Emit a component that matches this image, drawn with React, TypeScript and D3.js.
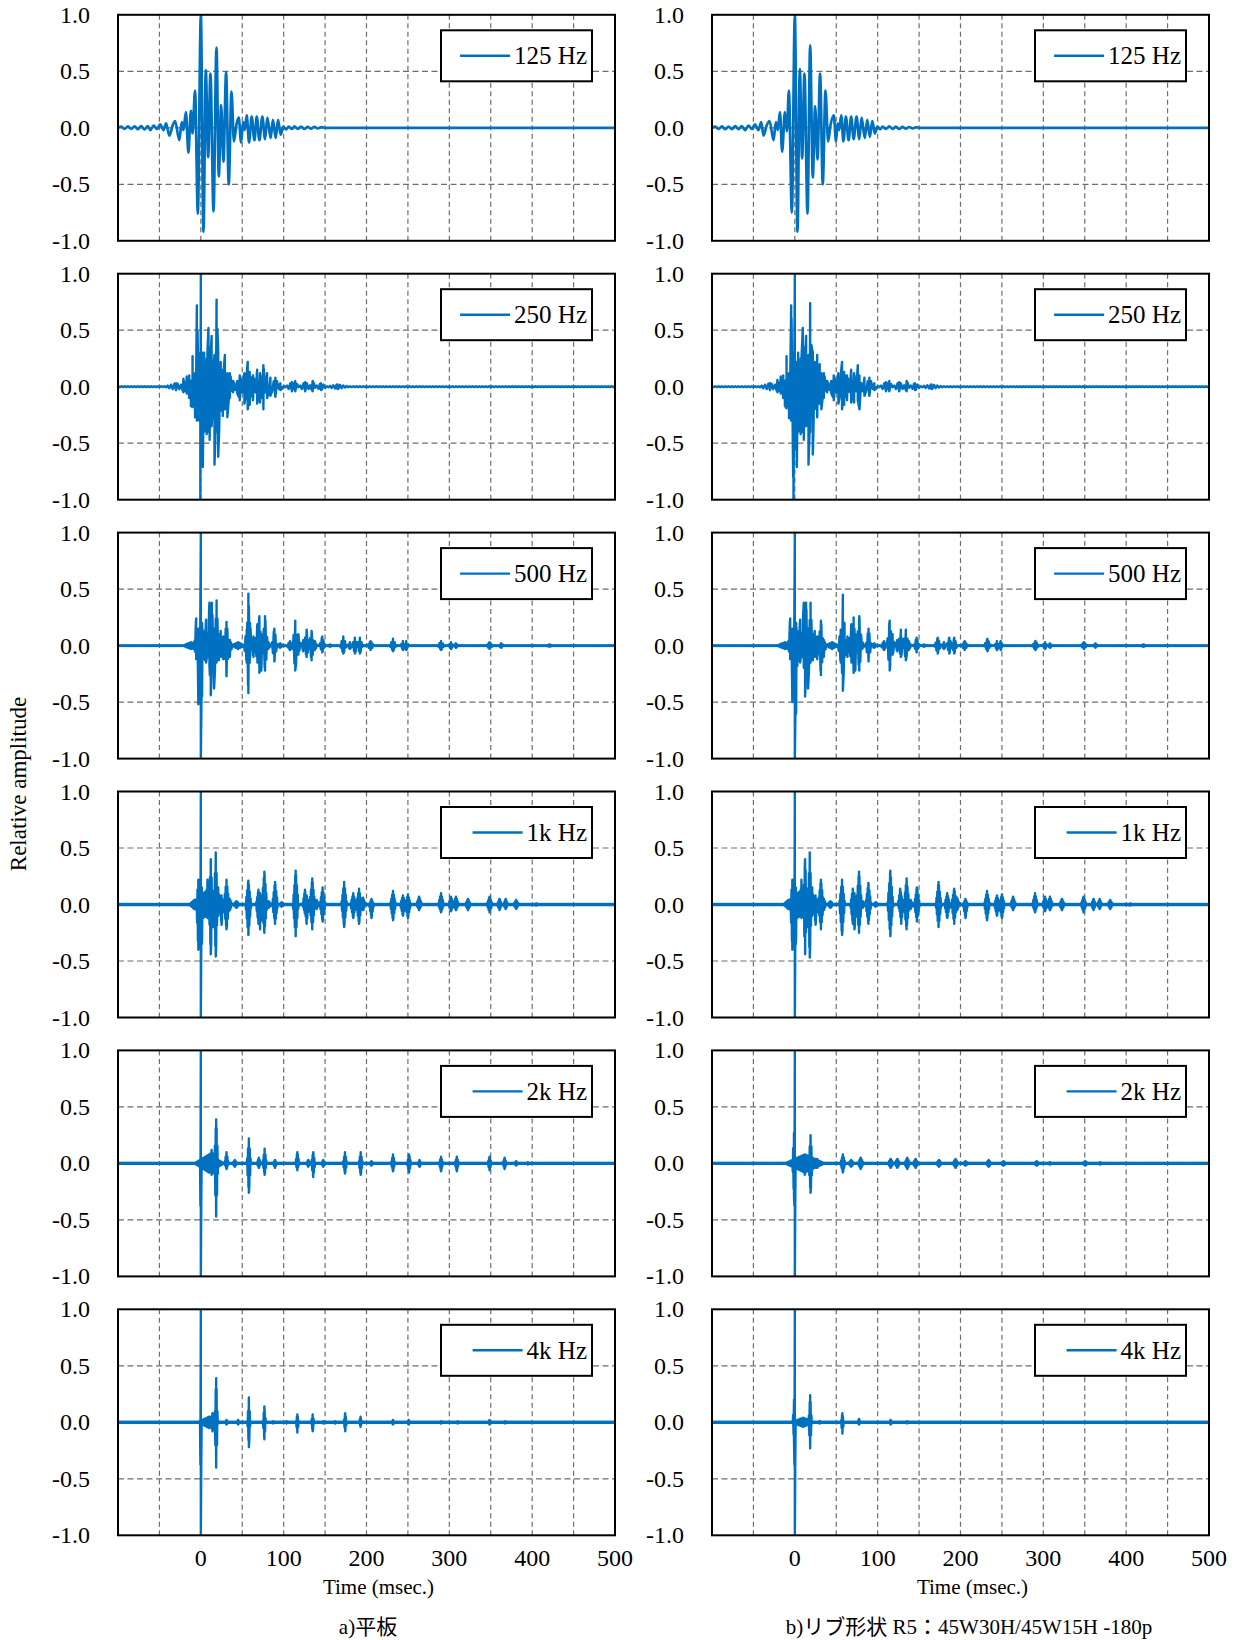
import React, { useMemo } from "react";
import * as d3 from "d3";

type Peak = [number, number];
type Burst = [number, number, number, number]; // [centre ms, +peak, -peak, half-width ms]

const xTicks = [0, 100, 200, 300, 400, 500];
const xGrid = [-50, 0, 50, 100, 150, 200, 250, 300, 350, 400, 450];
const yTicks = [1.0, 0.5, 0.0, -0.5, -1.0];
const yGrid = [0.5, 0, -0.5];
const bandLabels = ["125 Hz", "250 Hz", "500 Hz", "1k Hz", "2k Hz", "4k Hz"];
const columnCaptions = ["a)平板", "b)リブ形状 R5：45W30H/45W15H -180p"];
const xTitle = "Time (msec.)";
const yTitle = "Relative amplitude";

// 125 Hz: individual oscillation extremes [ms, amplitude]
const peaks125A: Peak[] = [
  [-100, 0], [-96, 0.01], [-92, -0.01], [-88, 0.012], [-84, -0.01], [-80, 0.012], [-76, -0.012],
  [-72, 0.015], [-68, -0.015], [-64, 0.015], [-61, -0.02], [-57, 0.02], [-53, -0.01], [-49, 0.03],
  [-45, -0.02], [-42, 0.04], [-38, -0.07], [-34, 0.02], [-31, 0.06], [-26, -0.11], [-23, 0.05],
  [-21, -0.02], [-18, 0.14], [-15, -0.22], [-12, 0.15], [-10, -0.05], [-7, 0.33], [-3.6, -0.76],
  [0, 1.0], [3.2, -0.92], [6, 0.51], [8.8, -0.26], [11.6, 0.48], [15.3, -0.74], [18.9, 0.71],
  [21.7, -0.43], [24.5, 0.2], [27.3, -0.3], [30.5, 0.49], [33.7, -0.5], [37, 0.32], [40, -0.12],
  [43, 0.03], [45.8, 0.09], [48.6, -0.13], [51, 0.05], [53, -0.02], [55.4, 0.11], [58.2, -0.13],
  [61.4, 0.1], [64.7, -0.11], [67.5, 0.1], [70.7, -0.11], [74.3, 0.1], [77.5, -0.1], [80.3, 0.09],
  [84.3, -0.09], [87, 0.07], [90.4, -0.09], [93.2, 0.07], [96.4, -0.06], [99.5, 0.01], [103, -0.015],
  [106, 0.01], [110, -0.01], [113, 0.012], [117, -0.01], [121, 0.01], [125, -0.01], [129, 0.008],
  [133, -0.008], [137, 0.008], [141, -0.006], [146, 0.006], [150, 0], [500, 0],
];
const peaks125B: Peak[] = [
  [-100, 0], [-96, 0.01], [-92, -0.01], [-88, 0.012], [-84, -0.012], [-80, 0.01], [-76, -0.012],
  [-72, 0.015], [-68, -0.012], [-64, 0.015], [-60, -0.02], [-56, 0.02], [-52, -0.01], [-48, 0.03],
  [-44, -0.02], [-40.6, 0.05], [-37.8, -0.07], [-34, 0.02], [-30.5, 0.06], [-25.7, -0.11], [-22.9, 0.05],
  [-20.5, -0.02], [-18, 0.14], [-15.3, -0.21], [-12, 0.14], [-9.6, -0.03], [-7.2, 0.33], [-3.6, -0.75],
  [0, 1.0], [3.2, -0.92], [6, 0.52], [8.8, -0.27], [11.6, 0.48], [15.3, -0.76], [18.5, 0.73],
  [21.7, -0.44], [24.5, 0.19], [27.3, -0.28], [30.5, 0.48], [33.7, -0.5], [37, 0.33], [40.2, -0.12],
  [43, 0.02], [47, 0.11], [49.8, -0.12], [51.5, 0.04], [53.5, -0.02], [56, 0.11], [58.6, -0.12],
  [61.6, 0.1], [64.9, -0.11], [68, 0.1], [71, -0.1], [74.5, 0.1], [77.8, -0.1], [80.6, 0.09],
  [84.5, -0.09], [87.4, 0.07], [90.6, -0.08], [93.5, 0.06], [96.6, -0.05], [99.6, 0.01], [103, -0.012],
  [106, 0.01], [110, -0.01], [114, 0.012], [118, -0.01], [122, 0.01], [126, -0.01], [130, 0.008],
  [134, -0.008], [138, 0.007], [142, -0.006], [146, 0.005], [150, 0], [500, 0],
];

// Other bands: reflections read as bursts [centre ms, +peak, -peak, half-width ms]
const bursts250A: Burst[] = [
  [-30, 0.03, 0.03, 15], [-21, 0.07, 0.05, 3], [-17, 0.09, 0.06, 3], [-14, 0.1, 0.1, 3],
  [-12, 0.05, 0.17, 2.5], [-10, 0.27, 0.18, 2.5], [-7, 0.12, 0.27, 2.5], [-4.8, 0.72, 0.3, 2.5],
  [-0.6, 0.3, 1.0, 2], [0, 1.0, 0.5, 2], [2.4, 0.3, 0.71, 2], [4, 0.3, 0.4, 3], [7, 0.25, 0.42, 3],
  [9.2, 0.52, 0.4, 3], [10.6, 0.35, 0.47, 3], [13, 0.45, 0.35, 3], [16.5, 0.28, 0.69, 3],
  [19, 0.77, 0.4, 3], [21, 0.3, 0.62, 3], [24, 0.22, 0.2, 3], [26.5, 0.15, 0.26, 3], [29, 0.28, 0.2, 3],
  [32, 0.12, 0.27, 3], [35, 0.12, 0.1, 4], [39, 0.05, 0.05, 4], [44, 0.05, 0.06, 4], [47, 0.1, 0.12, 4],
  [52.6, 0.12, 0.15, 4], [56.6, 0.22, 0.2, 3], [59, 0.13, 0.16, 3], [63, 0.1, 0.12, 4], [68, 0.15, 0.15, 3],
  [71.5, 0.12, 0.14, 3], [75.5, 0.19, 0.2, 3], [80, 0.12, 0.1, 4], [84, 0.08, 0.08, 4], [90, 0.08, 0.09, 5],
  [96, 0.03, 0.03, 5], [110, 0.04, 0.04, 8], [114, 0.05, 0.04, 4], [126, 0.04, 0.04, 8], [135, 0.05, 0.04, 4],
  [145, 0.03, 0.03, 8], [165, 0.02, 0.02, 15],
];
const bursts250B: Burst[] = [
  [-30, 0.03, 0.03, 15], [-21, 0.06, 0.05, 3], [-17, 0.09, 0.06, 3], [-14, 0.1, 0.1, 3],
  [-12, 0.05, 0.17, 2.5], [-10, 0.27, 0.19, 2.5], [-7, 0.12, 0.28, 2.5], [-4.4, 0.72, 0.3, 2.5],
  [-1.6, 0.3, 1.0, 2], [0, 1.0, 0.5, 2], [2.4, 0.22, 0.71, 2], [4, 0.3, 0.4, 3], [7, 0.25, 0.42, 3],
  [9.6, 0.52, 0.4, 3], [10.8, 0.35, 0.47, 3], [13.6, 0.45, 0.35, 3], [16.5, 0.28, 0.69, 3],
  [18.5, 0.74, 0.4, 3], [21.7, 0.3, 0.6, 3], [24, 0.22, 0.2, 3], [27, 0.28, 0.27, 3], [30, 0.2, 0.15, 3],
  [32, 0.12, 0.2, 3], [35, 0.12, 0.1, 4], [39, 0.05, 0.05, 4], [44, 0.05, 0.06, 4], [47, 0.1, 0.12, 4],
  [52.6, 0.12, 0.15, 4], [57, 0.22, 0.2, 3], [59.5, 0.13, 0.16, 3], [63, 0.1, 0.12, 4], [68, 0.15, 0.14, 3],
  [71.5, 0.12, 0.14, 3], [76, 0.19, 0.12, 3], [78, 0.1, 0.2, 3], [84, 0.08, 0.08, 4], [90, 0.08, 0.08, 5],
  [96, 0.03, 0.03, 5], [110, 0.04, 0.04, 8], [114, 0.05, 0.04, 4], [126, 0.04, 0.04, 8], [135, 0.05, 0.04, 4],
  [145, 0.03, 0.03, 8], [165, 0.02, 0.02, 15],
];
const bursts500A: Burst[] = [
  [-12, 0.03, 0.03, 10], [5, 0.13, 0.13, 18], [25, 0.07, 0.07, 15], [-5.6, 0.24, 0.12, 2.5],
  [-3, 0.15, 0.52, 2], [0, 1.0, 1.0, 1.2], [1.5, 0.2, 0.45, 2], [6.4, 0.23, 0.15, 2.5], [10.4, 0.38, 0.18, 2.5],
  [12, 0.15, 0.44, 2.5], [13.3, 0.38, 0.15, 2.5], [16, 0.15, 0.38, 2.5], [19, 0.4, 0.15, 2.5], [21.7, 0.1, 0.13, 2.5],
  [24, 0.13, 0.1, 2.5], [27, 0.08, 0.12, 2.5], [31, 0.21, 0.27, 3.5], [35, 0.05, 0.1, 3], [45, 0.03, 0.03, 8],
  [55.4, 0.14, 0.15, 3.5], [57.4, 0.46, 0.42, 2.5], [59.4, 0.2, 0.1, 2.5], [63.5, 0.08, 0.1, 3.5],
  [68.3, 0.19, 0.15, 3.5], [70.7, 0.26, 0.24, 2.5], [73, 0.1, 0.22, 2.5], [77.5, 0.26, 0.22, 3.5],
  [81.5, 0.03, 0.03, 3], [88.8, 0.15, 0.14, 3.5], [95.6, 0.02, 0.02, 4], [107.6, 0.04, 0.04, 4],
  [114, 0.22, 0.22, 3.5], [117.7, 0.1, 0.08, 3], [123.7, 0.05, 0.05, 3], [127.7, 0.14, 0.1, 3.5],
  [133.7, 0.13, 0.13, 3.5], [137.7, 0.04, 0.04, 3], [146.6, 0.08, 0.06, 3.5], [156, 0.01, 0.01, 4],
  [172, 0.08, 0.07, 4], [180, 0.03, 0.03, 3], [186, 0.07, 0.07, 3.5], [192, 0.07, 0.07, 3.5],
  [205, 0.04, 0.04, 4], [232, 0.06, 0.05, 4], [244, 0.04, 0.04, 3], [248, 0.04, 0.04, 3],
  [290, 0.04, 0.04, 4], [302, 0.03, 0.03, 3], [308, 0.02, 0.02, 3], [348.6, 0.03, 0.03, 4],
  [362.6, 0.02, 0.02, 3], [421, 0.01, 0.01, 5],
];
const bursts500B: Burst[] = [
  [-12, 0.03, 0.03, 10], [5, 0.13, 0.13, 18], [25, 0.07, 0.07, 15], [-5.6, 0.24, 0.12, 2.5],
  [-3, 0.15, 0.5, 2], [0, 1.0, 1.0, 1.2], [1.6, 0.2, 0.6, 2], [6.4, 0.23, 0.15, 2.5], [10.8, 0.38, 0.18, 2.5],
  [12.4, 0.15, 0.45, 2.5], [13.6, 0.38, 0.15, 2.5], [16, 0.15, 0.38, 2.5], [19, 0.38, 0.15, 2.5], [21.7, 0.1, 0.13, 2.5],
  [24, 0.13, 0.1, 2.5], [27, 0.08, 0.12, 2.5], [31.5, 0.22, 0.26, 3.5], [35, 0.05, 0.1, 3], [45, 0.03, 0.03, 8],
  [55.4, 0.14, 0.15, 3.5], [58, 0.45, 0.4, 2.5], [60, 0.2, 0.1, 2.5], [63.5, 0.08, 0.1, 3.5],
  [68.3, 0.19, 0.15, 3.5], [71, 0.25, 0.24, 2.5], [73, 0.1, 0.22, 2.5], [77.8, 0.26, 0.22, 3.5],
  [81.5, 0.03, 0.03, 3], [89, 0.15, 0.14, 3.5], [95.6, 0.02, 0.02, 4], [107.6, 0.04, 0.04, 4],
  [114.5, 0.22, 0.22, 3.5], [118, 0.1, 0.08, 3], [123.7, 0.05, 0.05, 3], [128, 0.14, 0.1, 3.5],
  [134, 0.14, 0.13, 3.5], [137.7, 0.04, 0.04, 3], [147, 0.07, 0.06, 3.5], [156, 0.01, 0.01, 4],
  [172.5, 0.07, 0.07, 4], [180, 0.03, 0.03, 3], [186.5, 0.07, 0.07, 3.5], [192.5, 0.07, 0.07, 3.5],
  [205, 0.04, 0.04, 4], [232.5, 0.06, 0.05, 4], [244, 0.04, 0.04, 3], [248.5, 0.04, 0.04, 3],
  [290.5, 0.04, 0.04, 4], [302, 0.03, 0.03, 3], [308, 0.02, 0.02, 3], [349, 0.03, 0.03, 4],
  [363, 0.02, 0.02, 3], [421, 0.01, 0.01, 5],
];
const bursts1kA: Burst[] = [
  [-8, 0.04, 0.04, 6], [5, 0.11, 0.11, 18], [-3, 0.22, 0.4, 2.5], [0, 1.0, 1.0, 0.8], [1.2, 0.15, 0.35, 2],
  [8, 0.22, 0.12, 2.5], [12, 0.4, 0.44, 2.5], [15, 0.12, 0.2, 2.5], [18, 0.46, 0.46, 2.5], [21, 0.15, 0.1, 2.5],
  [25, 0.08, 0.18, 2.5], [31, 0.22, 0.22, 3.5], [35, 0.05, 0.05, 3], [43, 0.03, 0.03, 4],
  [57.4, 0.21, 0.27, 3.5], [69.5, 0.13, 0.17, 3], [71.5, 0.1, 0.22, 3], [76.7, 0.29, 0.25, 3.5],
  [82, 0.03, 0.03, 3], [89.6, 0.2, 0.17, 3.5], [97.6, 0.02, 0.02, 3], [114.5, 0.3, 0.28, 3.5],
  [125.7, 0.13, 0.08, 3], [127.7, 0.08, 0.17, 3], [134.5, 0.23, 0.22, 3.5], [139.8, 0.04, 0.04, 3],
  [147, 0.15, 0.15, 3.5], [173, 0.2, 0.2, 3.5], [184, 0.1, 0.12, 3.5], [191, 0.14, 0.17, 3.5], [196, 0.06, 0.05, 3],
  [206, 0.05, 0.12, 3], [232, 0.12, 0.14, 3.5], [244, 0.08, 0.1, 3.5], [250, 0.09, 0.12, 3.5],
  [263.5, 0.07, 0.05, 3.5], [290, 0.1, 0.07, 3.5], [302, 0.07, 0.06, 3.5], [308, 0.07, 0.05, 3.5],
  [322.5, 0.05, 0.05, 3.5], [348.6, 0.07, 0.07, 3.5], [360.6, 0.05, 0.05, 3], [368, 0.05, 0.04, 3],
  [380.7, 0.04, 0.04, 3.5], [405, 0.01, 0.01, 4],
];
const bursts1kB: Burst[] = [
  [-8, 0.04, 0.04, 6], [5, 0.11, 0.11, 18], [-3, 0.22, 0.4, 2.5], [0, 1.0, 1.0, 0.8], [1.2, 0.15, 0.35, 2],
  [8, 0.22, 0.12, 2.5], [12.4, 0.4, 0.44, 2.5], [15, 0.12, 0.2, 2.5], [18, 0.46, 0.47, 2.5], [21, 0.15, 0.1, 2.5],
  [25, 0.08, 0.18, 2.5], [31.5, 0.22, 0.22, 3.5], [35, 0.05, 0.05, 3], [43, 0.03, 0.03, 4],
  [57, 0.22, 0.27, 3.5], [70, 0.14, 0.17, 3], [72, 0.1, 0.22, 3], [77.5, 0.29, 0.25, 3.5],
  [82, 0.03, 0.03, 3], [88.8, 0.19, 0.17, 3.5], [97.6, 0.02, 0.02, 3], [115.3, 0.3, 0.28, 3.5],
  [127.3, 0.14, 0.08, 3], [128.5, 0.08, 0.17, 3], [134.9, 0.23, 0.22, 3.5], [139.8, 0.04, 0.04, 3],
  [147.4, 0.15, 0.15, 3.5], [173.5, 0.2, 0.2, 3.5], [184, 0.1, 0.12, 3.5], [192.4, 0.14, 0.17, 3.5],
  [196, 0.06, 0.05, 3], [206, 0.05, 0.12, 3], [232, 0.12, 0.14, 3.5], [244, 0.08, 0.1, 3.5],
  [250, 0.09, 0.12, 3.5], [263.5, 0.07, 0.05, 3.5], [290, 0.1, 0.07, 3.5], [302, 0.07, 0.06, 3.5],
  [308, 0.07, 0.05, 3.5], [322.5, 0.05, 0.05, 3.5], [348.6, 0.07, 0.07, 3.5], [360.6, 0.05, 0.05, 3],
  [368, 0.05, 0.04, 3], [380.7, 0.04, 0.04, 3.5], [405, 0.01, 0.01, 4],
];
const bursts2kA: Burst[] = [
  [0, 1.0, 1.0, 0.8], [10, 0.08, 0.08, 18], [13, 0.12, 0.1, 4], [18.5, 0.39, 0.47, 2.5], [31, 0.1, 0.05, 2.5],
  [41, 0.03, 0.03, 3], [58, 0.22, 0.26, 2.5], [70, 0.05, 0.04, 2.5], [77, 0.13, 0.1, 2.5], [89.5, 0.03, 0.04, 2.5],
  [116.5, 0.1, 0.06, 2.5], [129.7, 0.03, 0.03, 2.5], [135.7, 0.1, 0.12, 2.5], [147.8, 0.03, 0.03, 2.5],
  [174, 0.1, 0.09, 2.5], [193, 0.1, 0.1, 2.5], [206, 0.02, 0.02, 2.5], [232, 0.08, 0.07, 2.5],
  [251.4, 0.08, 0.08, 2.5], [264, 0.03, 0.03, 2.5], [290, 0.06, 0.07, 2.5], [309, 0.06, 0.07, 2.5],
  [348.6, 0.06, 0.06, 2.5], [366.7, 0.05, 0.05, 2.5], [380.7, 0.02, 0.02, 2.5], [394.8, 0.01, 0.01, 2.5],
];
const bursts2kB: Burst[] = [
  [0, 1.0, 1.0, 0.8], [-1, 0.27, 0.3, 2], [12, 0.08, 0.08, 24], [12, 0.08, 0.1, 3.5], [15, 0.07, 0.05, 3.5],
  [19, 0.25, 0.26, 2.5], [27, 0.04, 0.04, 3.5], [58, 0.08, 0.08, 3], [68, 0.03, 0.03, 3.5], [79.5, 0.05, 0.05, 3.5],
  [115.7, 0.04, 0.04, 3.5], [123.7, 0.04, 0.04, 3.5], [135.7, 0.05, 0.05, 3.5], [145.8, 0.04, 0.04, 3.5],
  [174, 0.03, 0.03, 3.5], [194, 0.04, 0.04, 3.5], [206, 0.02, 0.02, 3.5], [234, 0.03, 0.03, 3.5],
  [252, 0.02, 0.02, 3.5], [292, 0.02, 0.02, 3.5], [308, 0.01, 0.01, 3.5], [350.6, 0.02, 0.02, 3.5],
  [368.7, 0.01, 0.01, 3.5],
];
const bursts4kA: Burst[] = [
  [0, 1.0, 1.0, 0.8], [10, 0.05, 0.05, 14], [14, 0.08, 0.08, 3], [18.5, 0.39, 0.4, 2], [31, 0.02, 0.02, 2],
  [45, 0.02, 0.02, 2], [58, 0.22, 0.22, 1.8], [76.7, 0.14, 0.15, 1.8], [87.5, 0.01, 0.01, 2],
  [103.6, 0.01, 0.01, 2], [116.5, 0.07, 0.09, 1.8], [135, 0.07, 0.08, 1.8], [148, 0.01, 0.01, 2],
  [162, 0.01, 0.01, 2], [174.3, 0.08, 0.08, 1.8], [192.8, 0.05, 0.04, 1.8], [232, 0.02, 0.02, 2],
  [251, 0.02, 0.02, 2], [290, 0.01, 0.01, 2], [310, 0.01, 0.01, 2], [348.6, 0.02, 0.02, 2],
  [367.5, 0.01, 0.01, 2],
];
const bursts4kB: Burst[] = [
  [0, 1.0, 1.0, 0.8], [-1, 0.2, 0.16, 1.5], [10, 0.04, 0.04, 14], [18.5, 0.24, 0.23, 2],
  [30, 0.01, 0.01, 3], [57.4, 0.08, 0.1, 1.8], [77.5, 0.03, 0.02, 2], [115.7, 0.02, 0.02, 2],
  [135.7, 0.01, 0.01, 2],
];

const leftSeries = [peaks125A, bursts250A, bursts500A, bursts1kA, bursts2kA, bursts4kA];
const rightSeries = [peaks125B, bursts250B, bursts500B, bursts1kB, bursts2kB, bursts4kB];

// ---- layout / style ----
const W = 1236;
const H = 1640;
const colX = [118, 712];
const plotW = 497;
const plotH = 226;
const rowTop = (i: number) => 14.8 + i * 258.9;
const stepByRow = [0, 2, 1, 0.5, 0.5, 0.5];
const BLUE = "#0070C0";
const FONT = "'Liberation Serif', 'Times New Roman', 'Noto Sans CJK JP', serif";

const charW: Record<string, number> = { " ": 0.25, H: 0.722, z: 0.444, k: 0.5 };
const textWidth = (s: string, fs: number) =>
  s.split("").reduce((a, c) => a + (charW[c] ?? 0.5), 0) * fs;

function burstPoints(bursts: Burst[], step: number): Peak[] {
  const env = (t: number, k: 1 | 2) => {
    let m = 0.004;
    for (const b of bursts) {
      const f = Math.abs(t - b[0]) / b[3];
      if (f < 1) m = Math.max(m, b[k] * (1 - f));
    }
    return m;
  };
  const pts: Peak[] = [];
  let i = 0;
  for (let t = -100; t <= 500 + 1e-9; t += step, i++) {
    pts.push([t, i % 2 === 0 ? env(t, 1) : -env(t, 2)]);
  }
  for (const b of bursts) {
    pts.push([b[0], b[1]]);
    pts.push([b[0] + 0.001, -b[2]]);
  }
  pts.sort((a, b) => a[0] - b[0]);
  return pts;
}

function Panel({ col, row }: { col: number; row: number }) {
  const x0 = colX[col];
  const top = rowTop(row);
  const x = d3.scaleLinear().domain([-100, 500]).range([x0, x0 + plotW]);
  const y = d3.scaleLinear().domain([-1, 1]).range([top + plotH, top]);
  const series = (col === 0 ? leftSeries : rightSeries)[row];
  const d = useMemo(() => {
    if (row === 0) {
      return d3
        .line<Peak>()
        .x((p) => x(p[0]))
        .y((p) => y(p[1]))
        .curve(d3.curveMonotoneX)(series as Peak[]);
    }
    const pts = burstPoints(series as Burst[], stepByRow[row]);
    return d3
      .line<Peak>()
      .x((p) => x(p[0]))
      .y((p) => y(p[1]))(pts);
  }, [col, row]);
  const clipId = `clip-${col}-${row}`;
  const label = bandLabels[row];
  const boxX = x0 + 323;
  const boxY = top + 15.5;
  const boxW = 151;
  const boxH = 51;
  const legendFs = 25;
  const textEnd = boxX + 146;
  const textStart = textEnd - textWidth(label, legendFs);
  return (
    <g>
      <defs>
        <clipPath id={clipId}>
          <rect x={x0} y={top} width={plotW} height={plotH} />
        </clipPath>
      </defs>
      <rect x={x0} y={top} width={plotW} height={plotH} fill="#fff" />
      {xGrid.map((v) => (
        <line key={"gx" + v} x1={x(v)} x2={x(v)} y1={top} y2={top + plotH} stroke="#6e6e6e" strokeWidth={1.2} strokeDasharray="5,3.5" />
      ))}
      {yGrid.map((v) => (
        <line key={"gy" + v} x1={x0} x2={x0 + plotW} y1={y(v)} y2={y(v)} stroke="#6e6e6e" strokeWidth={1.2} strokeDasharray="6,3.5" />
      ))}
      <g clipPath={`url(#${clipId})`}>
        <path d={d ?? ""} fill="none" stroke={BLUE} strokeWidth={row === 0 ? 2.7 : 2.4} strokeLinejoin="round" />
      </g>
      <rect x={x0} y={top} width={plotW} height={plotH} fill="none" stroke="#000" strokeWidth={2} />
      {yTicks.map((v) => (
        <text key={"yt" + v} x={x0 - 28} y={y(v)} textAnchor="end" dominantBaseline="central" fontSize={24} fontFamily={FONT} fill="#000">
          {v.toFixed(1)}
        </text>
      ))}
      {row === 5 &&
        xTicks.map((v) => (
          <text key={"xt" + v} x={x(v)} y={top + plotH + 23} textAnchor="middle" dominantBaseline="central" fontSize={24} fontFamily={FONT} fill="#000">
            {v}
          </text>
        ))}
      <rect x={boxX} y={boxY} width={boxW} height={boxH} fill="#fff" stroke="#000" strokeWidth={2} />
      <line x1={textStart - 54} x2={textStart - 4} y1={boxY + boxH / 2} y2={boxY + boxH / 2} stroke={BLUE} strokeWidth={2.4} />
      <text x={textStart} y={boxY + boxH / 2} dominantBaseline="central" fontSize={legendFs} fontFamily={FONT} fill="#000">
        {label}
      </text>
    </g>
  );
}

export default function App() {
  const rows = [0, 1, 2, 3, 4, 5];
  const bottom = rowTop(5) + plotH;
  return (
    <svg width={W} height={H} style={{ position: "absolute", left: 0, top: 0, background: "#fff" }} xmlns="http://www.w3.org/2000/svg">
      <rect x={0} y={0} width={W} height={H} fill="#fff" />
      {[0, 1].map((c) => rows.map((r) => <Panel key={`${c}-${r}`} col={c} row={r} />))}
      {[0, 1].map((c) => (
        <text key={"xtitle" + c} x={colX[c] + plotW / 2 + 12} y={bottom + 52} textAnchor="middle" dominantBaseline="central" fontSize={21} fontFamily={FONT} fill="#000">
          {xTitle}
        </text>
      ))}
      {[0, 1].map((c) => (
        <text key={"cap" + c} x={c === 0 ? 368 : 969} y={1627} textAnchor="middle" dominantBaseline="central" fontSize={21} fontFamily={FONT} fill="#000">
          {columnCaptions[c]}
        </text>
      ))}
      <text x={18} y={784} transform="rotate(-90 18 784)" textAnchor="middle" dominantBaseline="central" fontSize={23} fontFamily={FONT} fill="#000">
        {yTitle}
      </text>
    </svg>
  );
}
